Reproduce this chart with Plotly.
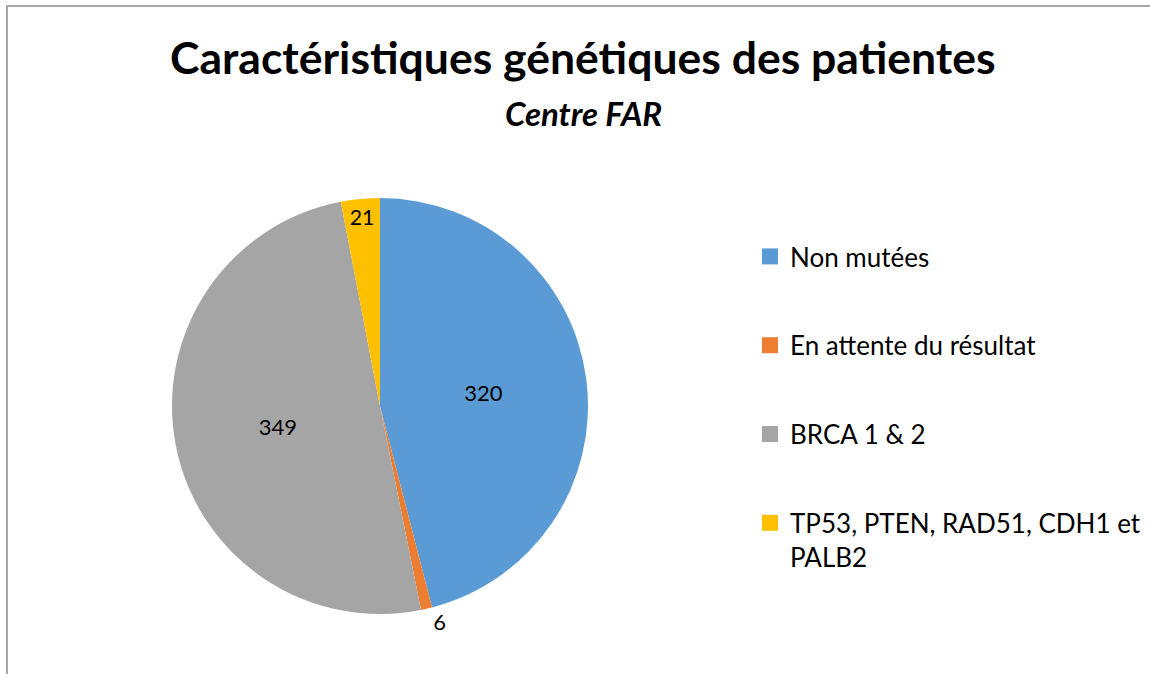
import plotly.graph_objects as go

categories = ["Non mutées", "En attente du résultat", "BRCA 1 & 2", "TP53, PTEN, RAD51, CDH1 et<br>PALB2"]
values = [320, 6, 349, 21]
colors = ["#5B9BD5", "#ED7D31", "#A5A5A5", "#FFC000"]

W, H = 1150, 674
FONT = "Lato"

fig = go.Figure()

fig.add_trace(go.Pie(
    values=values,
    labels=categories,
    sort=False,
    direction="clockwise",
    rotation=0,
    marker=dict(colors=colors, line=dict(width=0)),
    textinfo="value",
    textposition=["inside", "outside", "inside", "inside"],
    insidetextorientation="horizontal",
    textfont=dict(family=FONT, size=22, color="#000000"),
    domain=dict(x=[172 / W, 588 / W], y=[1 - 614 / H, 1 - 198 / H]),
    showlegend=False,
    hoverinfo="label+value",
))

for cat, col in zip(categories, colors):
    fig.add_trace(go.Scatter(
        x=[None], y=[None], mode="markers", name=cat,
        marker=dict(symbol="square", size=16, color=col),
        legendgroup=cat, showlegend=True,
    ))

fig.update_layout(
    width=W, height=H,
    margin=dict(l=0, r=0, t=0, b=0, autoexpand=False),
    paper_bgcolor="white", plot_bgcolor="white",
    xaxis=dict(visible=False), yaxis=dict(visible=False),
    legend=dict(
        x=750 / W, y=1 - 233 / H, xanchor="left", yanchor="top",
        font=dict(family=FONT, size=26, color="#000000"),
        tracegroupgap=52, valign="top", itemwidth=30,
        bgcolor="rgba(0,0,0,0)",
    ),
    annotations=[
        dict(text="<b>Caractéristiques génétiques des patientes</b>", x=583 / W, y=1 - 57 / H,
             xref="paper", yref="paper", showarrow=False, xanchor="center", yanchor="middle",
             font=dict(family=FONT, size=44.5, color="#000000")),
        dict(text="<b><i>Centre FAR</i></b>", x=583 / W, y=1 - 113 / H,
             xref="paper", yref="paper", showarrow=False, xanchor="center", yanchor="middle",
             font=dict(family=FONT, size=33, color="#000000")),
    ],
    shapes=[
        dict(type="rect", xref="paper", yref="paper", x0=7 / W, y0=1 - 6 / H, x1=1.05, y1=-0.05,
             line=dict(color="#A6A6A6", width=2), fillcolor="rgba(0,0,0,0)", layer="below"),
    ],
)

fig.write_html("out.html", config={"displayModeBar": False},
               post_script="document.body.style.margin='0';document.body.style.overflow='hidden';")
